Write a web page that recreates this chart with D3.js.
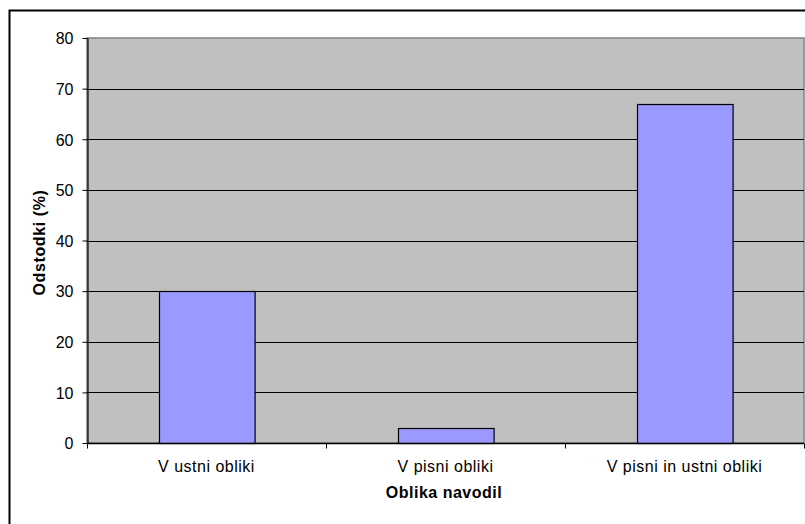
<!DOCTYPE html>
<html>
<head>
<meta charset="utf-8">
<script src="https://cdn.jsdelivr.net/npm/d3@7"></script>
<style>
  html, body { margin: 0; padding: 0; background: #fff; }
  svg { display: block; }
  text { font-family: "Liberation Sans", Arial, sans-serif; fill: #000; }
</style>
</head>
<body>
<svg id="chart" width="805" height="524"></svg>
<script>
// Response categories and their shares (%)
const categories = ["V ustni obliki", "V pisni obliki", "V pisni in ustni obliki"];
const values = [30, 3, 67];
const yTicks = [0, 10, 20, 30, 40, 50, 60, 70, 80];
const xTitle = "Oblika navodil";
const yTitle = "Odstodki (%)";

const svg = d3.select("#chart");
const plot = { left: 87, top: 38, right: 804, bottom: 443 };
const FONT = "'Liberation Sans', Arial, sans-serif";

// Outer chart frame (runs past the page edge)
svg.append("rect")
  .attr("x", 9.5).attr("y", 10.5)
  .attr("width", 1000).attr("height", 1000)
  .attr("fill", "#fff").attr("stroke", "#000").attr("stroke-width", 2);

const x = d3.scaleBand().domain(categories).range([plot.left, plot.right]).paddingInner(0.6).paddingOuter(0.3);
const xBand = d3.scaleBand().domain(categories).range([plot.left, plot.right]);
const y = d3.scaleLinear().domain([0, 80]).range([plot.bottom, plot.top]);

// Plot background
svg.append("rect")
  .attr("x", plot.left).attr("y", plot.top)
  .attr("width", plot.right - plot.left).attr("height", plot.bottom - plot.top)
  .attr("fill", "#c0c0c0").attr("stroke", "#808080").attr("stroke-width", 1.5);

// Horizontal gridlines
svg.append("g").selectAll("line")
  .data(yTicks.filter(d => d > 0 && d < 80))
  .join("line")
  .attr("x1", plot.left).attr("x2", plot.right)
  .attr("y1", d => Math.round(y(d)) + 0.5).attr("y2", d => Math.round(y(d)) + 0.5)
  .attr("stroke", "#000").attr("stroke-width", 1.2);

// Bars
svg.append("g").selectAll("rect")
  .data(values)
  .join("rect")
  .attr("x", (d, i) => Math.round(x(categories[i])) + 0.5)
  .attr("y", d => Math.round(y(d)) + 0.5)
  .attr("width", x.bandwidth())
  .attr("height", d => y(0) - Math.round(y(d)))
  .attr("fill", "#9999ff").attr("stroke", "#000").attr("stroke-width", 1.2);

// Y axis
const yAxis = svg.append("g")
  .attr("transform", `translate(${plot.left + 0.5},0)`)
  .call(d3.axisLeft(y).tickValues(yTicks).tickSize(5).tickPadding(9).tickSizeOuter(0));
yAxis.select(".domain").attr("stroke", "#000").attr("stroke-width", 1.2);
yAxis.selectAll(".tick line").attr("stroke", "#000");
yAxis.selectAll(".tick text").attr("font-size", "16px")
  .attr("font-family", FONT).attr("fill", "#000").attr("dy", "0.36em");

// X axis with tick marks at category boundaries
const xAxisG = svg.append("g").attr("transform", `translate(0,${plot.bottom + 0.5})`);
xAxisG.append("line")
  .attr("x1", plot.left).attr("x2", plot.right)
  .attr("stroke", "#000").attr("stroke-width", 1.5);
xAxisG.selectAll("line.tick")
  .data(categories.map(c => xBand(c)).concat([plot.right]))
  .join("line").attr("class", "tick")
  .attr("x1", d => Math.round(d) + 0.5).attr("x2", d => Math.round(d) + 0.5)
  .attr("y1", 0).attr("y2", 5)
  .attr("stroke", "#000");
xAxisG.selectAll("text")
  .data(categories)
  .join("text")
  .attr("x", d => xBand(d) + xBand.bandwidth() / 2)
  .attr("y", 28)
  .attr("text-anchor", "middle")
  .attr("font-size", "16px")
  .attr("letter-spacing", "0.5px")
  .text(d => d);

// Axis titles
svg.append("text")
  .attr("x", 444).attr("y", 497.5)
  .attr("text-anchor", "middle")
  .attr("font-size", "16px").attr("font-weight", "bold")
  .attr("letter-spacing", "0.5px")
  .text(xTitle);

svg.append("text")
  .attr("transform", `translate(45,${(plot.top + plot.bottom) / 2 + 2}) rotate(-90)`)
  .attr("text-anchor", "middle")
  .attr("font-size", "16px").attr("font-weight", "bold")
  .attr("letter-spacing", "0.6px")
  .text(yTitle);
</script>
</body>
</html>
